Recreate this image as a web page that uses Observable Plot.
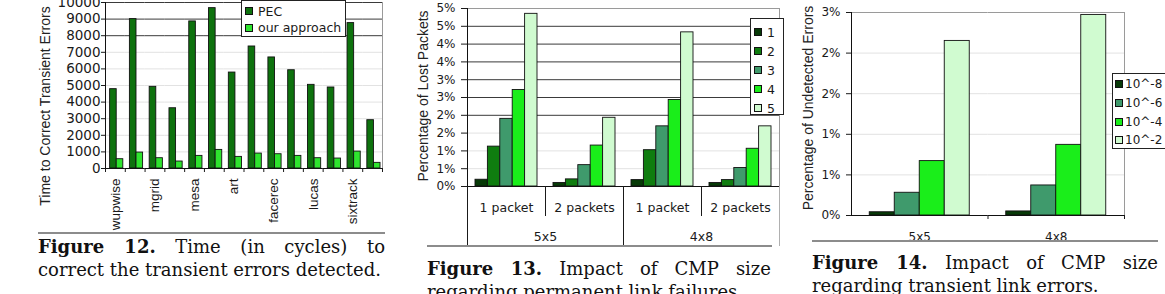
<!DOCTYPE html>
<html><head><meta charset="utf-8">
<script src="https://cdn.jsdelivr.net/npm/d3@7"></script>
<script src="https://cdn.jsdelivr.net/npm/@observablehq/plot@0.6"></script>
<style>
html,body{margin:0;padding:0;background:#fff;}
#root{position:relative;width:1165px;height:294px;overflow:hidden;background:#fff;}
.slot{position:absolute;top:0;}
.ytitle{position:absolute;white-space:nowrap;font-family:"Liberation Sans",Arial,sans-serif;font-size:14px;color:#222;transform:translate(-50%,-50%) rotate(-90deg);}
.legend{position:absolute;background:#fff;border:1px solid #222;box-sizing:border-box;font-family:"DejaVu Sans",sans-serif;color:#1a1a1a;overflow:hidden;}
.legend .row{display:flex;align-items:center;white-space:nowrap;}
.legend .sw{border:1px solid #111;box-sizing:border-box;flex:none;}
.rule{position:absolute;height:2px;background:#8c8c8c;}
.cap{position:absolute;font-family:"DejaVu Serif",serif;font-size:18px;line-height:22.7px;color:#111;}
.cap .j{text-align:justify;text-align-last:justify;}
</style></head>
<body><div id="root">
<div class="slot" id="c1" style="left:0px"></div>
<div class="slot" id="c2" style="left:400px"></div>
<div class="slot" id="c3" style="left:790px"></div>
</div>
<script>
// ---------------- data ----------------
// Figure 12
const benchmarks = ["wupwise","swim","mgrid","applu","mesa","galgel","art","equake","facerec","ammp","lucas","fma3d","sixtrack","apsi"];
const fig12Series = ["PEC", "our approach"];
const pecTimes = [4780, 9000, 4920, 3630, 8860, 9660, 5780, 7350, 6690, 5920, 5040, 4880, 8760, 2910];
const ourTimes = [560, 960, 620, 420, 760, 1120, 700, 900, 860, 760, 620, 600, 1020, 340];
const fig12Ticks = [0, 1000, 2000, 3000, 4000, 5000, 6000, 7000, 8000, 9000, 10000];
const fig12Title = "Time to Correct Transient Errors";

// Figure 13
const fig13Sizes = ["5x5", "4x8"];
const fig13Packets = ["1 packet", "2 packets"];
const fig13Series = ["1", "2", "3", "4", "5"];
const lost5x5_1pkt = [0.19, 1.12, 1.90, 2.71, 4.85];
const lost5x5_2pkt = [0.10, 0.20, 0.60, 1.15, 1.93];
const lost4x8_1pkt = [0.18, 1.02, 1.69, 2.43, 4.33];
const lost4x8_2pkt = [0.10, 0.18, 0.52, 1.06, 1.69];
const fig13Ticks = [0, 0.5, 1, 1.5, 2, 2.5, 3, 3.5, 4, 4.5, 5];
const fig13TickLabels = ["0%", "1%", "1%", "2%", "2%", "3%", "3%", "4%", "4%", "5%", "5%"];
const fig13Title = "Percentage of Lost Packets";

// Figure 14
const fig14Sizes = ["5x5", "4x8"];
const fig14Series = ["10^-8", "10^-6", "10^-4", "10^-2"];
const undetected5x5 = [0.04, 0.28, 0.67, 2.15];
const undetected4x8 = [0.05, 0.37, 0.87, 2.47];
const fig14Ticks = [0, 0.5, 1, 1.5, 2, 2.5];
const fig14TickLabels = ["0%", "1%", "1%", "2%", "2%", "3%"];
const fig14Title = "Percentage of Undetected Errors";

// ---------------- styles ----------------
const sans = "DejaVu Sans, sans-serif";
const rot = "Liberation Sans, Arial, sans-serif";
const fig12Colors = ["#0e720e", "#2fe42f"];
const fig13Colors = ["#073a07", "#0f7d0f", "#3f9a6c", "#1aee1a", "#d0fbd0"];
const fig14Colors = ["#073a07", "#3f9a6c", "#1aee1a", "#d0fbd0"];
const gridLight = "#e2e2e2", gridDark = "#3a3a3a", borderGray = "#9a9a9a", ink = "#111";
const root = document.getElementById("root");

// ---------------- Figure 12 ----------------
{
  const W = 390, H = 233, M = {top: 2, right: 8, bottom: 65, left: 105};
  const step = (W - M.left - M.right) / benchmarks.length;
  const rows = benchmarks.flatMap((b, i) => [
    {bench: b, series: fig12Series[0], value: pecTimes[i]},
    {bench: b, series: fig12Series[1], value: ourTimes[i]}
  ]);
  const chart = Plot.plot({
    width: W, height: H, marginTop: M.top, marginRight: M.right, marginBottom: M.bottom, marginLeft: M.left,
    style: {fontFamily: sans, fontSize: "13.5px", color: "#1a1a1a", background: "transparent", overflow: "hidden"},
    fx: {domain: benchmarks, padding: 0, round: false},
    x: {domain: fig12Series, paddingInner: 0, paddingOuter: 0.5, align: 0.7, round: false, axis: null},
    y: {domain: [0, 10000]},
    color: {domain: fig12Series, range: fig12Colors},
    marks: [
      Plot.ruleY(fig12Ticks.filter(t => t > 0 && t < 8000), {stroke: gridLight}),
      Plot.ruleY(fig12Ticks.filter(t => t >= 8000), {stroke: gridDark}),
      Plot.frame({anchor: "right", facetAnchor: "right", stroke: borderGray}),
      Plot.barY(rows, {fx: "bench", x: "series", y: "value", fill: "series", stroke: ink, strokeWidth: 0.9}),
      Plot.ruleY([0], {stroke: ink}),
      Plot.frame({anchor: "left", facetAnchor: "left", stroke: ink}),
      Plot.axisY({ticks: fig12Ticks, tickSize: 4, tickPadding: 1, label: null, fontSize: 13.5, tickFormat: d => String(d)}),
      Plot.axisFx({anchor: "bottom", ticks: benchmarks.filter((d, i) => i % 2 === 0), tickSize: 0, tickPadding: 10, tickRotate: -90, label: null, fontFamily: rot, fontSize: 13.5}),
      Plot.axisFx({anchor: "bottom", ticks: benchmarks, tickSize: 4, tickFormat: () => "", label: null, dx: -step / 2}),
      Plot.axisFx({anchor: "bottom", ticks: benchmarks.slice(-1), tickSize: 4, tickFormat: () => "", label: null, dx: step / 2})
    ]
  });
  document.getElementById("c1").append(chart);
}

// ---------------- Figure 13 ----------------
{
  const W = 382, H = 250, M = {top: 8, right: 3, bottom: 64, left: 67};
  const combos = fig13Sizes.flatMap(s => fig13Packets.map(p => `${s}|${p}`));
  const values = [lost5x5_1pkt, lost5x5_2pkt, lost4x8_1pkt, lost4x8_2pkt];
  const rows = combos.flatMap((c, g) => fig13Series.map((s, k) => ({combo: c, series: s, value: values[g][k]})));
  const step = (W - M.left - M.right) / combos.length;
  const firsts = combos.filter(c => c.endsWith("|" + fig13Packets[0]));
  const seconds = combos.filter(c => c.endsWith("|" + fig13Packets[1]));
  const chart = Plot.plot({
    width: W, height: H, marginTop: M.top, marginRight: M.right, marginBottom: M.bottom, marginLeft: M.left,
    style: {fontFamily: sans, fontSize: "12px", color: "#1a1a1a", background: "transparent", overflow: "hidden"},
    fx: {domain: combos, padding: 0, round: false},
    x: {domain: fig13Series, paddingInner: 0, paddingOuter: 0.645, round: false, axis: null},
    y: {domain: [0, 5]},
    color: {domain: fig13Series, range: fig13Colors},
    marks: [
      Plot.ruleY(fig13Ticks.filter(t => t > 0 && t < 2), {stroke: gridLight}),
      Plot.ruleY(fig13Ticks.filter(t => t >= 2 && t < 5), {stroke: gridDark}),
      Plot.ruleY(fig13Ticks.slice(-1), {stroke: borderGray}),
      Plot.frame({anchor: "right", facetAnchor: "right", stroke: borderGray}),
      Plot.barY(rows, {fx: "combo", x: "series", y: "value", fill: "series", stroke: ink, strokeWidth: 0.9}),
      Plot.ruleY([0], {stroke: ink}),
      Plot.frame({anchor: "left", facetAnchor: "left", stroke: ink}),
      Plot.axisY({ticks: fig13Ticks, tickSize: 6, tickPadding: 6, label: null, fontSize: 12, tickFormat: d => fig13TickLabels[fig13Ticks.indexOf(d)]}),
      Plot.axisFx({anchor: "bottom", ticks: combos, tickSize: 0, tickPadding: 17, label: null, fontSize: 12.5, tickFormat: d => d.split("|")[1]}),
      Plot.axisFx({anchor: "bottom", ticks: firsts, tickSize: 0, tickPadding: 46, label: null, fontSize: 12.5, dx: step / 2, tickFormat: d => d.split("|")[0]}),
      Plot.axisFx({anchor: "bottom", ticks: firsts, tickSize: 60, tickFormat: () => "", label: null, dx: -step / 2}),
      Plot.axisFx({anchor: "bottom", ticks: seconds, tickSize: 30, tickFormat: () => "", label: null, dx: -step / 2}),
      Plot.axisFx({anchor: "bottom", ticks: combos.slice(-1), tickSize: 60, tickFormat: () => "", label: null, dx: step / 2, stroke: "#b0b0b0"})
    ]
  });
  document.getElementById("c2").append(chart);
}

// ---------------- Figure 14 ----------------
{
  const W = 375, H = 245, M = {top: 12, right: 41, bottom: 30, left: 61};
  const values = [undetected5x5, undetected4x8];
  const rows = fig14Sizes.flatMap((s, g) => fig14Series.map((k, j) => ({size: s, series: k, value: values[g][j]})));
  const step = (W - M.left - M.right) / fig14Sizes.length;
  const chart = Plot.plot({
    width: W, height: H, marginTop: M.top, marginRight: M.right, marginBottom: M.bottom, marginLeft: M.left,
    style: {fontFamily: sans, fontSize: "12px", color: "#1a1a1a", background: "transparent", overflow: "hidden"},
    fx: {domain: fig14Sizes, padding: 0, round: false},
    x: {domain: fig14Series, paddingInner: 0, paddingOuter: 0.73, round: false, axis: null},
    y: {domain: [0, 2.5]},
    color: {domain: fig14Series, range: fig14Colors},
    marks: [
      Plot.ruleY(fig14Ticks.filter(t => t > 0 && t < 2.5), {stroke: gridLight}),
      Plot.ruleY(fig14Ticks.slice(-1), {stroke: borderGray}),
      Plot.frame({anchor: "right", facetAnchor: "right", stroke: borderGray}),
      Plot.barY(rows, {fx: "size", x: "series", y: "value", fill: "series", stroke: ink, strokeWidth: 0.9}),
      Plot.ruleY([0], {stroke: ink}),
      Plot.frame({anchor: "left", facetAnchor: "left", stroke: ink}),
      Plot.axisY({ticks: fig14Ticks, tickSize: 5, tickPadding: 6, label: null, fontSize: 12, tickFormat: d => fig14TickLabels[fig14Ticks.indexOf(d)]}),
      Plot.axisFx({anchor: "bottom", ticks: fig14Sizes, tickSize: 0, tickPadding: 17, label: null, fontSize: 12}),
      Plot.axisFx({anchor: "bottom", ticks: fig14Sizes.slice(1), tickSize: 4, tickFormat: () => "", label: null, dx: -step / 2}),
      Plot.axisFx({anchor: "bottom", ticks: fig14Sizes.slice(-1), tickSize: 4, tickFormat: () => "", label: null, dx: step / 2})
    ]
  });
  document.getElementById("c3").append(chart);
}

// ---------------- titles, legends, rules, captions ----------------
function yTitle(text, cx, cy) {
  const d = document.createElement("div");
  d.className = "ytitle"; d.textContent = text;
  d.style.left = cx + "px"; d.style.top = cy + "px";
  root.append(d);
}
yTitle(fig12Title, 45, 106);
yTitle(fig13Title, 423, 96);
yTitle(fig14Title, 808, 108);

function legend(labels, colors, o) {
  const box = document.createElement("div");
  box.className = "legend";
  Object.assign(box.style, {left: o.left + "px", top: o.top + "px", width: o.width + "px", height: o.height + "px",
    paddingTop: o.padTop + "px", paddingLeft: o.padLeft + "px", fontSize: o.fontSize + "px"});
  labels.forEach((lab, i) => {
    const row = document.createElement("div");
    row.className = "row"; row.style.height = o.rowH + "px";
    const sw = document.createElement("span");
    sw.className = "sw";
    Object.assign(sw.style, {width: o.sw + "px", height: o.sw + "px", background: colors[i], marginRight: o.gap + "px"});
    const t = document.createElement("span"); t.textContent = lab;
    row.append(sw, t); box.append(row);
  });
  root.append(box);
}
legend(fig12Series, fig12Colors, {left: 241, top: 0, width: 105, height: 37, padTop: 2, padLeft: 3, rowH: 16.5, sw: 8, gap: 5, fontSize: 12.5});
legend(fig13Series, fig13Colors, {left: 750, top: 18, width: 34, height: 97, padTop: 3.5, padLeft: 3, rowH: 19, sw: 8, gap: 5, fontSize: 12.5});
legend(fig14Series, fig14Colors, {left: 1112, top: 73, width: 60, height: 76, padTop: 1, padLeft: 2, rowH: 18.7, sw: 8, gap: 2, fontSize: 12});

function rule(left, top, width) {
  const d = document.createElement("div");
  d.className = "rule"; Object.assign(d.style, {left: left + "px", top: top + "px", width: width + "px"});
  root.append(d);
}
rule(38, 232, 347);
rule(427, 245, 345);
rule(812, 240, 346);

function caption(left, top, width, num, line1, line2) {
  const d = document.createElement("div");
  d.className = "cap"; Object.assign(d.style, {left: left + "px", top: top + "px", width: width + "px"});
  const a = document.createElement("div"); a.className = "j";
  const b = document.createElement("b"); b.textContent = `Figure ${num}.`;
  a.append(b, document.createTextNode(" " + line1));
  const c = document.createElement("div"); c.textContent = line2;
  d.append(a, c); root.append(d);
}
caption(38, 236.4, 347, 12, "Time (in cycles) to", "correct the transient errors detected.");
caption(427, 258.4, 344, 13, "Impact of CMP size", "regarding permanent link failures.");
caption(812, 252.4, 346, 14, "Impact of CMP size", "regarding transient link errors.");
</script></body></html>
